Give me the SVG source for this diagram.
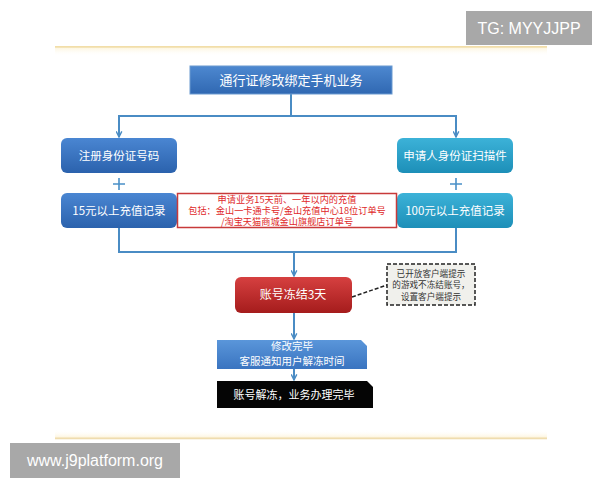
<svg xmlns="http://www.w3.org/2000/svg" width="600" height="480" viewBox="0 0 600 480">
<defs>
<linearGradient id="gBlue" x1="0" y1="0" x2="0" y2="1"><stop offset="0" stop-color="#4a86d2"/><stop offset="1" stop-color="#2b62ad"/></linearGradient>
<linearGradient id="gTop" x1="0" y1="0" x2="0" y2="1"><stop offset="0" stop-color="#4d88d0"/><stop offset="1" stop-color="#3068b2"/></linearGradient>
<linearGradient id="gTeal" x1="0" y1="0" x2="0" y2="1"><stop offset="0" stop-color="#3cb2d8"/><stop offset="1" stop-color="#1d8fb8"/></linearGradient>
<linearGradient id="gRed" x1="0" y1="0" x2="0" y2="1"><stop offset="0" stop-color="#d64040"/><stop offset="1" stop-color="#a51c1c"/></linearGradient>
<linearGradient id="gDone" x1="0" y1="0" x2="0" y2="1"><stop offset="0" stop-color="#5a96da"/><stop offset="1" stop-color="#3a74c0"/></linearGradient>
<linearGradient id="gGoldT" x1="0" y1="0" x2="0" y2="1"><stop offset="0" stop-color="#fdf6e0" stop-opacity="1"/><stop offset="1" stop-color="#ffffff" stop-opacity="0"/></linearGradient>
<linearGradient id="gGoldB" x1="0" y1="0" x2="0" y2="1"><stop offset="0" stop-color="#ffffff" stop-opacity="0"/><stop offset="1" stop-color="#fdf3d8" stop-opacity="1"/></linearGradient>
<marker id="arr" viewBox="0 0 10 10" refX="9" refY="5" markerWidth="7" markerHeight="7" orient="auto" markerUnits="userSpaceOnUse">
<polyline points="1,1 9,5 1,9" fill="none" stroke="#4a8cc4" stroke-width="2"/>
</marker>
<style>
.cn{font-family:"Noto Sans CJK SC","Noto Sans",sans-serif;}
.w{fill:#ffffff;text-anchor:middle;}
.red{fill:#e02828;text-anchor:middle;font-size:9.2px;}
.note{fill:#333333;text-anchor:middle;font-size:8.6px;}
.conn{fill:none;stroke:#4a8cc4;stroke-width:2;}
.plus{fill:none;stroke:#4a90c8;stroke-width:1.6;}
.wm{fill:#a8a8a8;}
.wmt{fill:#ffffff;font-family:"Liberation Sans",Arial,sans-serif;text-anchor:middle;font-size:16px;}
</style>
</defs>
<rect width="600" height="480" fill="#ffffff"/>
<g id="frame">
<rect x="55" y="46" width="492" height="1.8" fill="#f2dea8"/>
<rect x="55" y="48" width="492" height="8" fill="url(#gGoldT)"/>
<rect x="55" y="430" width="492" height="8" fill="url(#gGoldB)"/>
<rect x="55" y="437.5" width="492" height="1.8" fill="#efdcae"/>
</g>
<g id="connectors">
<polyline class="conn" points="291,94 291,116 119,116 119,137" marker-end="url(#arr)"/>
<polyline class="conn" points="291,116 456,116 456,137" marker-end="url(#arr)"/>
<polyline class="conn" points="119,228 119,252 294,252 294,276" marker-end="url(#arr)"/>
<polyline class="conn" points="456,228 456,252 294,252"/>
<line class="conn" x1="294" y1="313" x2="294" y2="339" marker-end="url(#arr)"/>
<line class="conn" x1="294" y1="369" x2="294" y2="380" marker-end="url(#arr)"/>
<line x1="352" y1="297" x2="387" y2="285" stroke="#222" stroke-width="1.5" stroke-dasharray="4,2"/>
<path class="plus" d="M113,184 h12 M119,178 v12"/>
<path class="plus" d="M450,184 h12 M456,178 v12"/>
</g>
<g id="top">
<rect x="190" y="66" width="202" height="28" fill="url(#gTop)" stroke="#6a9ad0" stroke-width="1"/>
<text class="cn w" x="291" y="85" font-size="13">通行证修改绑定手机业务</text>
</g>
<g id="id-number">
<rect x="61" y="138" width="116" height="35" rx="6" fill="url(#gBlue)"/>
<text class="cn w" x="119" y="160" font-size="11.5">注册身份证号码</text>
</g>
<g id="recharge15">
<rect x="61" y="193" width="116" height="35" rx="6" fill="url(#gBlue)"/>
<text class="cn w" x="119" y="215" font-size="11.5">15元以上充值记录</text>
</g>
<g id="id-scan">
<rect x="397" y="138" width="116" height="35" rx="6" fill="url(#gTeal)"/>
<text class="cn w" x="455" y="160" font-size="11.5">申请人身份证扫描件</text>
</g>
<g id="recharge100">
<rect x="397" y="193" width="116" height="35" rx="6" fill="url(#gTeal)"/>
<text class="cn w" x="455" y="215" font-size="11.5">100元以上充值记录</text>
</g>
<g id="recharge-note">
<rect x="177.5" y="193.5" width="219" height="34" fill="#ffffff" stroke="#c83a3a" stroke-width="1.5"/>
<text class="cn red" x="287" y="203">申请业务15天前、一年以内的充值</text>
<text class="cn red" x="287" y="214">包括：金山一卡通卡号/金山充值中心18位订单号</text>
<text class="cn red" x="287" y="225">/淘宝天猫商城金山旗舰店订单号</text>
</g>
<g id="freeze">
<rect x="235" y="277" width="117" height="36" rx="6" fill="url(#gRed)"/>
<text class="cn w" x="293" y="299" font-size="12">账号冻结3天</text>
</g>
<g id="freeze-note">
<rect x="387" y="264" width="88" height="41" fill="#f0f0ec" stroke="#222" stroke-width="1.5" stroke-dasharray="4,2"/>
<text class="cn note" x="431" y="276.5">已开放客户端提示</text>
<text class="cn note" x="431" y="288">的游戏不冻结账号，</text>
<text class="cn note" x="431" y="299.5">设置客户端提示</text>
</g>
<g id="modified">
<path d="M217,340 H361 L367,346 V369 H217 Z" fill="url(#gDone)"/>
<text class="cn w" x="292" y="350" font-size="10.5">修改完毕</text>
<text class="cn w" x="292" y="364.5" font-size="10.5">客服通知用户解冻时间</text>
</g>
<g id="done">
<path d="M217,381 H367 L373,387 V408 H217 Z" fill="#050505"/>
<text class="cn w" x="294" y="399" font-size="11">账号解冻，业务办理完毕</text>
</g>
<g id="watermarks">
<rect class="wm" x="466" y="11" width="126" height="34"/>
<text class="wmt" x="529" y="34">TG: MYYJJPP</text>
<rect class="wm" x="10" y="443" width="170" height="35"/>
<text class="wmt" x="95" y="466">www.j9platform.org</text>
</g>
</svg>
